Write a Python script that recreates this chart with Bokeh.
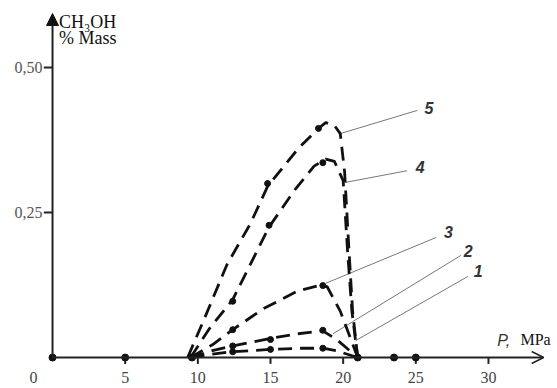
from bokeh.plotting import figure
from bokeh.models import Range1d, Arrow, NormalHead, OpenHead
from bokeh.core.properties import value
from bokeh.embed import file_html
from bokeh.resources import INLINE

# ---- data ----
c1_x = [9.5, 11.0, 12.4, 15.0, 17.0, 18.6, 19.5, 21.0]
c1_y = [0.0, 0.006, 0.010, 0.014, 0.016, 0.016, 0.012, 0.0]
c2_x = [9.5, 11.0, 12.4, 15.0, 16.9, 18.6, 19.6, 21.0]
c2_y = [0.0, 0.012, 0.020, 0.033, 0.041, 0.046, 0.030, 0.0]
c3_x = [9.5, 11.0, 12.4, 14.5, 16.9, 18.3, 18.9, 19.8, 20.4, 21.0]
c3_y = [0.0, 0.022, 0.048, 0.084, 0.115, 0.124, 0.122, 0.080, 0.040, 0.0]
c4_x = [9.5, 10.8, 12.4, 14.9, 16.7, 18.0, 18.8, 19.4, 20.0, 20.3, 20.6, 21.0]
c4_y = [0.0, 0.050, 0.100, 0.225, 0.290, 0.330, 0.342, 0.338, 0.305, 0.185, 0.080, 0.0]
c5_x = [9.3, 10.5, 12.0, 13.6, 14.8, 16.9, 18.3, 18.8, 19.4, 19.8, 20.1, 20.4, 20.65, 21.0]
c5_y = [0.0, 0.070, 0.160, 0.230, 0.295, 0.360, 0.395, 0.405, 0.400, 0.386, 0.320, 0.185, 0.080, 0.0]

pts_x = [12.4, 15.0, 18.6, 12.4, 15.0, 18.6, 12.4, 18.6, 12.4, 14.9, 18.6, 14.8, 18.3]
pts_y = [0.010, 0.014, 0.016, 0.020, 0.031, 0.047, 0.048, 0.124, 0.097, 0.228, 0.336, 0.300, 0.395]
axis_dots_x = [0, 5, 9.6, 21.0, 23.5, 25]
axis_dots_y = [0, 0, 0, 0, 0, 0]

curve_labels = ["1", "2", "3", "4", "5"]
label_x = [29.3, 28.6, 27.25, 25.3, 25.9]
label_y = [0.150, 0.184, 0.216, 0.328, 0.431]
leader_x0 = [20.85, 19.3, 18.8, 20.17, 19.8]
leader_y0 = [0.029, 0.041, 0.128, 0.302, 0.386]
leader_x1 = [28.6, 28.1, 26.4, 24.4, 25.1]
leader_y1 = [0.140, 0.176, 0.207, 0.322, 0.426]

x_ticks = [5, 10, 15, 20, 25, 30]
x_tick_labels = ["5", "10", "15", "20", "25", "30"]
y_ticks = [0.25, 0.50]
y_tick_labels = ["0,25", "0,50"]

p = figure(width=557, height=388, output_backend="svg", toolbar_location=None,
           x_range=Range1d(-3.58, 34.75), y_range=Range1d(-0.0534, 0.6155),
           min_border=0, outline_line_color=None)
p.axis.visible = False
p.grid.visible = False
p.background_fill_color = "white"
p.border_fill_color = "white"

# axes
p.add_layout(Arrow(end=OpenHead(size=12, line_width=1.5, line_color="#222"),
                   x_start=0, y_start=0, x_end=33.8, y_end=0,
                   line_width=2, line_color="#222"))
p.add_layout(Arrow(end=NormalHead(size=12, fill_color="#111", line_color="#111"),
                   x_start=0, y_start=0, x_end=0, y_end=0.593,
                   line_width=2, line_color="#222"))
p.segment(x0=x_ticks, y0=[0] * len(x_ticks), x1=x_ticks, y1=[-0.011] * len(x_ticks),
          line_width=2, line_color="#222")
p.segment(x0=[-0.6] * len(y_ticks), y0=y_ticks, x1=[0] * len(y_ticks), y1=y_ticks,
          line_width=2, line_color="#222")

serif = value("Liberation Serif")
p.text(x=x_ticks, y=[-0.0345] * len(x_ticks), text=x_tick_labels, text_font=serif,
       text_font_size="16px", text_color="#444", text_align="center", text_baseline="middle")
p.text(x=[-1.31], y=[-0.0345], text=["0"], text_font=serif,
       text_font_size="16px", text_color="#444", text_align="center", text_baseline="middle")
p.text(x=[-0.69] * len(y_ticks), y=y_ticks, text=y_tick_labels, text_font=serif,
       text_font_size="16px", text_color="#555", text_align="right", text_baseline="middle")

p.text(x=[0.45], y=[0.578], text=["CH₃OH"], text_font=serif, text_font_size="18px",
       text_color="#111", text_align="left", text_baseline="middle")
p.text(x=[0.45], y=[0.550], text=["% Mass"], text_font=serif, text_font_size="18px",
       text_color="#111", text_align="left", text_baseline="middle")
p.text(x=[30.6], y=[0.029], text=["P,"], text_font=value("Liberation Sans"),
       text_font_style="italic", text_font_size="16px", text_color="#333",
       text_align="left", text_baseline="middle")
p.text(x=[32.2], y=[0.031], text=["MPa"], text_font=serif, text_font_size="16px",
       text_color="#111", text_align="left", text_baseline="middle")

# leader lines and labels
p.segment(x0=leader_x0, y0=leader_y0, x1=leader_x1, y1=leader_y1,
          line_width=1, line_color="#777")
p.text(x=label_x, y=label_y, text=curve_labels, text_font=value("Liberation Sans"),
       text_font_style="bold italic", text_font_size="16px", text_color="#333",
       text_align="center", text_baseline="middle")

# curves
for cx, cy in [(c1_x, c1_y), (c2_x, c2_y), (c3_x, c3_y), (c4_x, c4_y), (c5_x, c5_y)]:
    p.line(cx, cy, line_width=2.8, line_color="#111", line_dash="14 8", line_join="round")

p.scatter(pts_x, pts_y, size=6, color="#111")
p.scatter(axis_dots_x, axis_dots_y, size=7, color="#111")

open("out.html", "w").write(file_html(p, INLINE))
